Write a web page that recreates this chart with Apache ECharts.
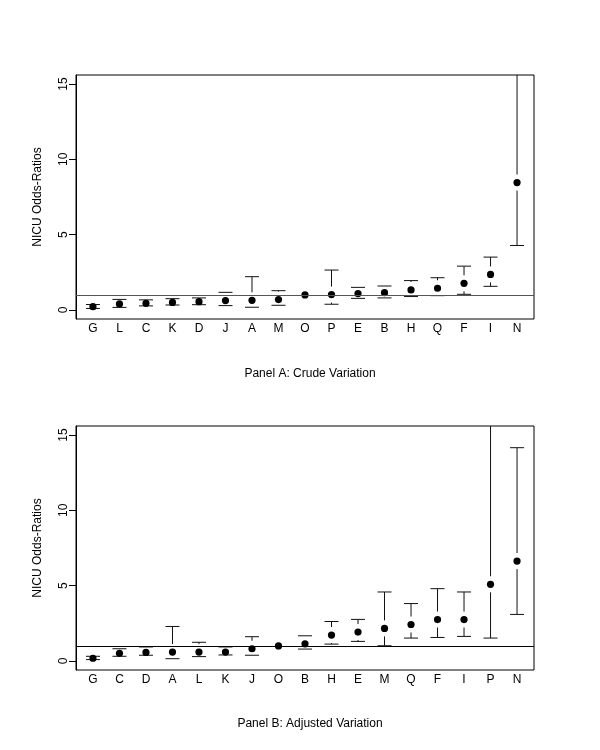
<!DOCTYPE html>
<html>
<head>
<meta charset="utf-8">
<script src="https://cdn.jsdelivr.net/npm/echarts@6/dist/echarts.min.js"></script>
<style>html,body{margin:0;padding:0;background:#fff}#c{width:600px;height:750px}</style>
</head>
<body>
<div id="c"></div>
<script>
// Panel A: Crude Variation
const categoriesA = ['G','L','C','K','D','J','A','M','O','P','E','B','H','Q','F','I','N'];
const oddsA  = [0.22,0.40,0.44,0.50,0.55,0.62,0.64,0.69,1.00,1.02,1.09,1.15,1.33,1.44,1.77,2.36,8.46];
const lowerA = [0.10,0.17,0.27,0.33,0.35,0.29,0.18,0.31,null,0.38,0.77,0.80,0.89,0.95,1.04,1.57,4.28];
const upperA = [0.36,0.70,0.67,0.75,0.80,1.17,2.21,1.28,null,2.65,1.50,1.59,1.95,2.14,2.91,3.51,16.7];
// Panel B: Adjusted Variation
const categoriesB = ['G','C','D','A','L','K','J','O','B','H','E','M','Q','F','I','P','N'];
const oddsB  = [0.18,0.51,0.57,0.59,0.59,0.59,0.81,1.00,1.14,1.72,1.92,2.16,2.42,2.75,2.75,5.09,6.63];
const lowerB = [0.09,0.31,0.38,0.15,0.29,0.40,0.38,null,0.79,1.12,1.30,1.01,1.52,1.56,1.63,1.52,3.09];
const upperB = [0.31,0.81,0.93,2.29,1.24,0.93,1.61,null,1.67,2.62,2.76,4.58,3.81,4.80,4.58,17.0,14.16];
const yTicks = [0,5,10,15];
const refLine = 1;

const FONT = '"Liberation Sans", Arial, Helvetica, sans-serif';
const chart = echarts.init(document.getElementById('c'), null, {renderer:'canvas'});

function positions(n){ const a=[]; for(let i=1;i<=n;i++) a.push(i); return a; }

function makeRender(lower, upper){
  return function(params, api){
    const i = params.dataIndex;
    const x = api.value(0), y = api.value(1);
    const p = api.coord([x,y]);
    const children = [];
    const gap = 8, cap = 7;
    const st = {stroke:'#111', lineWidth:1, fill:null};
    if (lower[i] != null && upper[i] != null){
      const ph = api.coord([x, upper[i]]);
      const pl = api.coord([x, lower[i]]);
      children.push({type:'line', shape:{x1:ph[0]-cap,y1:ph[1],x2:ph[0]+cap,y2:ph[1]}, style:st});
      children.push({type:'line', shape:{x1:pl[0]-cap,y1:pl[1],x2:pl[0]+cap,y2:pl[1]}, style:st});
      if (ph[1] < p[1]-gap) children.push({type:'line', shape:{x1:p[0],y1:ph[1],x2:p[0],y2:p[1]-gap}, style:st});
      if (pl[1] > p[1]+gap) children.push({type:'line', shape:{x1:p[0],y1:p[1]+gap,x2:p[0],y2:pl[1]}, style:st});
    }
    children.push({type:'circle', shape:{cx:p[0], cy:p[1], r:3.6}, style:{fill:'#000'}});
    return {type:'group', children};
  };
}

function xAxisFor(cats, gi){
  return {
    type:'value', gridIndex:gi, min:0.36, max:17.64,
    axisLine:{show:false, onZero:false},
    axisTick:{show:false},
    splitLine:{show:false},
    axisLabel:{customValues:positions(cats.length), formatter:v=>cats[Math.round(v)-1], color:'#000', fontFamily:FONT, fontSize:12, margin:4}
  };
}
function yAxisFor(gi){
  return {
    type:'value', gridIndex:gi, min:-0.6, max:15.6,
    name:'NICU Odds-Ratios', nameLocation:'middle', nameGap:32, nameRotate:90,
    nameTextStyle:{color:'#000', fontFamily:FONT, fontSize:12},
    axisLine:{show:true, onZero:false, lineStyle:{color:'#000', width:1}},
    axisTick:{show:true, customValues:yTicks, length:7, lineStyle:{color:'#000'}},
    splitLine:{show:false},
    axisLabel:{customValues:yTicks, rotate:90, color:'#000', fontFamily:FONT, fontSize:12, margin:6}
  };
}
function seriesFor(odds, lower, upper, gi, lineColor){
  return {
    type:'custom', xAxisIndex:gi, yAxisIndex:gi, clip:true,
    data: odds.map((v,i)=>[i+1, v]),
    encode:{x:0, y:1},
    renderItem: makeRender(lower, upper),
    markLine:{silent:true, symbol:['none','none'], label:{show:false},
      lineStyle:{color:lineColor, width:1, type:'solid'}, data:[{yAxis:refLine}]}
  };
}

chart.setOption({
  animation:false,
  backgroundColor:'#fff',
  title:[
    {text:'Panel A: Crude Variation', left:305, top:363, textAlign:'center', textStyle:{fontFamily:FONT, fontSize:12, fontWeight:'normal', color:'#000'}},
    {text:'Panel B: Adjusted Variation', left:305, top:713, textAlign:'center', textStyle:{fontFamily:FONT, fontSize:12, fontWeight:'normal', color:'#000'}}
  ],
  grid:[
    {left:76, top:75, width:458, height:244, show:true, borderColor:'#000', borderWidth:1, backgroundColor:'transparent'},
    {left:76, top:426, width:458, height:244, show:true, borderColor:'#000', borderWidth:1, backgroundColor:'transparent'}
  ],
  xAxis:[xAxisFor(categoriesA,0), xAxisFor(categoriesB,1)],
  yAxis:[yAxisFor(0), yAxisFor(1)],
  series:[
    seriesFor(oddsA, lowerA, upperA, 0, '#555'),
    seriesFor(oddsB, lowerB, upperB, 1, '#000')
  ]
});
</script>
</body>
</html>
